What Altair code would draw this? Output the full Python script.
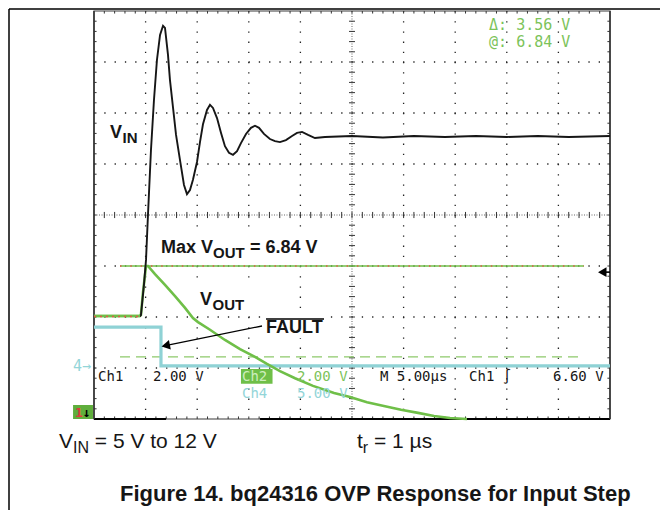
import altair as alt
import pandas as pd

# ---------------- data read from the scope screen ----------------
# time in µs (M 5.00 µs/div, 10 div), amplitude in screen divisions (8 div, 0 = centre)
vin_t = [0.00, 4.46, 4.55, 4.84, 5.04, 5.23, 5.52, 5.81, 6.10, 6.40, 6.69, 6.88, 7.17, 7.36,
         7.66, 7.95, 8.33, 8.72, 9.01, 9.30, 9.59, 9.98, 10.27, 10.56, 10.95, 11.24, 11.53,
         11.92, 12.31, 12.69, 13.08, 13.47, 13.86, 14.24, 14.73, 15.21, 15.60, 15.99, 16.47,
         17.05, 17.54, 18.02, 18.60, 19.19, 19.67, 20.16, 20.74, 21.41, 22.38, 25.0, 28.0,
         31.0, 34.0, 37.0, 40.0, 43.0, 46.0, 50.0]
vin_div = [-1.98, -1.98, -1.96, -1.37, -0.88, 0.00, 1.27, 2.25, 3.04, 3.53, 3.71, 3.67, 3.14, 2.65,
           2.10, 1.57, 1.08, 0.59, 0.41, 0.49, 0.69, 1.04, 1.43, 1.78, 2.06, 2.16, 2.10,
           1.90, 1.61, 1.35, 1.22, 1.18, 1.25, 1.41, 1.59, 1.71, 1.75, 1.71, 1.59,
           1.49, 1.45, 1.43, 1.47, 1.55, 1.61, 1.63, 1.57, 1.51, 1.53, 1.55, 1.52,
           1.55, 1.53, 1.55, 1.53, 1.55, 1.53, 1.55]

vout_t = [0.00, 4.46, 4.55, 4.75, 5.04, 5.23, 5.91, 6.88, 7.85, 8.82, 9.59, 10.08, 11.24, 12.69,
          14.15, 15.60, 16.76, 18.02, 19.48, 21.22, 23.26, 24.81, 26.45, 28.20, 29.75, 31.40,
          32.95, 34.50, 36.14]
vout_div = [-1.98, -1.98, -1.96, -1.51, -1.00, -1.00, -1.16, -1.37, -1.59, -1.82, -2.02, -2.10, -2.25,
            -2.45, -2.63, -2.78, -2.92, -3.06, -3.20, -3.35, -3.49, -3.57, -3.67, -3.75, -3.82,
            -3.88, -3.94, -3.98, -4.00]

fault_t = [0.00, 6.49, 6.49, 50.0]
fault_div = [-2.20, -2.20, -2.96, -2.96]

cursor_t = [2.52, 47.48]
cursor_max_div = -1.00      # Max VOUT = 6.84 V
cursor_min_div = -2.78      # 3.56 V below
trigger_div = -1.12         # trigger level 6.60 V
ch4_ground_div = -2.96

cursor_texts = ["Δ: 3.56 V", "@: 6.84 V"]
row1_texts = ["Ch1", "2.00 V", "Ch2", "2.00 V", "M 5.00µs", "Ch1 ∫", "6.60 V"]
row2_texts = ["Ch4", "5.00 V"]
caption = "Figure 14. bq24316 OVP Response for Input Step"

# ---------------- colours / fonts ----------------
GREEN = "#6fbf48"
GREEN_TXT = "#7cc35a"
GREEN_DASH = "#8dc96b"
CYAN = "#8fd2d5"
CYAN_TXT = "#93d5d8"
BLACK = "#161616"
SANS = "Liberation Sans"
MONO = "DejaVu Sans Mono"
SCOPE_FS = 15
ROW_FS = 14

W, H = 652, 502
X_DOM = [-8.333, 54.845]
Y_DOM = [-5.784, 4.059]

xs = alt.Scale(domain=X_DOM, nice=False, zero=False)
ys = alt.Scale(domain=Y_DOM, nice=False, zero=False)
ex = alt.X("t:Q", scale=xs, axis=None)
ey = alt.Y("d:Q", scale=ys, axis=None)
ex2 = alt.X2("t2:Q")
ey2 = alt.Y2("d2:Q")


def rules(rows, **kw):
    df = pd.DataFrame(rows, columns=["t", "t2", "d", "d2"])
    return alt.Chart(df).mark_rule(**kw).encode(x=ex, x2=ex2, y=ey, y2=ey2)


def rects(rows, **kw):
    df = pd.DataFrame(rows, columns=["t", "t2", "d", "d2"])
    return alt.Chart(df).mark_rect(**kw).encode(x=ex, x2=ex2, y=ey, y2=ey2)


def trace(t, d, **kw):
    df = pd.DataFrame({"t": t, "d": d, "o": list(range(len(t)))})
    return alt.Chart(df).mark_line(**kw).encode(x=ex, y=ey, order="o:Q")


def text(t, d, s, **kw):
    df = pd.DataFrame({"t": [t], "d": [d], "s": [s]})
    kw.setdefault("align", "left")
    kw.setdefault("baseline", "alphabetic")
    return alt.Chart(df).mark_text(**kw).encode(x=ex, y=ey, text="s:N")


layers = []

# outer figure frame (left and top)
layers.append(rules([(-8.236, -8.236, 4.039, Y_DOM[0]), (-8.236, X_DOM[1], 4.039, 4.039)],
                    color="black", strokeWidth=1.5))

# graticule: major dotted grid
vgrid = [(k * 5.0, k * 5.0, 4.0, -4.0) for k in range(1, 10) if k != 5]
hgrid = [(0.0, 50.0, k, k) for k in (3, 2, 1, -1, -2, -3)]
layers.append(rules(vgrid, color="#222", strokeWidth=1.3, strokeDash=[1.3, 8.9]))
layers.append(rules(hgrid, color="#222", strokeWidth=1.3, strokeDash=[1.3, 9.0]))
# centre cross
layers.append(rules([(25.0, 25.0, 4.0, -4.0), (0.0, 50.0, 0.0, 0.0)],
                    color="#666", strokeWidth=1, strokeDash=[1, 1.5]))
ticks = [(float(k), float(k), -0.06, 0.06) for k in range(1, 50)]
ticks += [(24.71, 25.29, k * 0.2, k * 0.2) for k in range(-19, 20) if k != 0]
# edge ticks
ticks += [(0.0, 0.25, k * 0.2, k * 0.2) for k in range(-19, 20)]
ticks += [(49.75, 50.0, k * 0.2, k * 0.2) for k in range(-19, 20)]
ticks += [(float(k), float(k), 4.0, 3.95) for k in range(1, 50)]
ticks += [(float(k), float(k), -4.0, -3.95) for k in range(1, 50)]
layers.append(rules(ticks, color="#333", strokeWidth=1))

# screen frame
layers.append(rects([(0.0, 50.0, -4.0, 4.0)], fill=None, fillOpacity=0, stroke="#3a3a3a", strokeWidth=1.2))
layers.append(rules([(0.0, 6.98, -4.0, -4.0), (16.09, 50.0, -4.0, -4.0)], color="black", strokeWidth=2))
layers.append(rules([(0.0, 0.0, -4.0, 4.0), (50.0, 50.0, -4.0, 4.0)], color="#333", strokeWidth=1.5))

# white label backgrounds (hide graticule dots)
layers.append(rects([(1.07, 4.90, 1.90, 1.31), (5.91, 22.38, -0.353, -0.922),
                     (9.79, 15.12, -1.353, -1.975), (16.28, 22.67, -1.961, -2.412)],
                    color="white"))

# cursors
layers.append(rules([(cursor_t[0], cursor_t[1], cursor_min_div, cursor_min_div)],
                    color=GREEN_DASH, strokeWidth=1.3, strokeDash=[10, 6]))
layers.append(rules([(cursor_t[0], cursor_t[1], cursor_max_div, cursor_max_div)],
                    color=GREEN, strokeWidth=1.3))
layers.append(rules([(cursor_t[0], cursor_t[1], cursor_max_div, cursor_max_div)],
                    color="#e0584a", strokeWidth=1.3, strokeDash=[1.5, 8.8]))

# traces
layers.append(trace(fault_t, fault_div, color=CYAN, strokeWidth=3.2))
layers.append(trace(vout_t, vout_div, color=GREEN, strokeWidth=2.6))
layers.append(trace(vin_t, vin_div, color=BLACK, strokeWidth=1.9))
# pre-step level: Ch2 drawn over Ch1, with cursor-red speckle
layers.append(trace(vout_t[:2], vout_div[:2], color=GREEN, strokeWidth=2.4))
layers.append(rules([(0.0, 4.46, -1.99, -1.99)], color="#e0584a", strokeWidth=1.4, strokeDash=[2, 4]))

# trigger level marker at right
layers.append(rules([(49.1, 50.0, trigger_div, trigger_div)], color="black", strokeWidth=1.6))
layers.append(alt.Chart(pd.DataFrame({"t": [49.25], "d": [trigger_div]})).mark_point(
    shape="triangle-left", filled=True, color="black", size=95, opacity=1).encode(x=ex, y=ey))

# FAULT arrow
layers.append(rules([(16.28, 6.92, -2.176, -2.561)], color="black", strokeWidth=1.3))
layers.append(alt.Chart(pd.DataFrame({"t": [6.95], "d": [-2.560]})).mark_point(
    shape="triangle-up", filled=True, color="black", size=95, angle=259, opacity=1).encode(x=ex, y=ey))

# annotations
layers.append(text(1.55, 1.51, "V", font=SANS, fontSize=18, fontWeight="bold", color=BLACK))
layers.append(text(1.55, 1.51, "IN", font=SANS, fontSize=15, fontWeight="bold", color=BLACK, dx=12.5, dy=5))

layers.append(text(6.49, -0.745, "Max V", font=SANS, fontSize=18, fontWeight="bold", color=BLACK))
layers.append(text(6.49, -0.745, "OUT", font=SANS, fontSize=15, fontWeight="bold", color=BLACK, dx=52, dy=5))
layers.append(text(6.49, -0.745, "= 6.84 V", font=SANS, fontSize=18, fontWeight="bold", color=BLACK, dx=89))

layers.append(text(10.27, -1.765, "V", font=SANS, fontSize=18, fontWeight="bold", color=BLACK))
layers.append(text(10.27, -1.765, "OUT", font=SANS, fontSize=15, fontWeight="bold", color=BLACK, dx=12.5, dy=5))

layers.append(text(16.67, -2.314, "FAULT", font=SANS, fontSize=18, fontWeight="bold", color=BLACK))
layers.append(rules([(16.67, 22.29, -2.039, -2.039)], color="black", strokeWidth=1.5))

# cursor readouts
layers.append(text(38.28, 3.627, cursor_texts[0], font=MONO, fontSize=SCOPE_FS, color=GREEN_TXT))
layers.append(text(38.28, 3.294, cursor_texts[1], font=MONO, fontSize=SCOPE_FS, color=GREEN_TXT))

# channel readouts
ROW1, ROW2 = -3.255, -3.595
layers.append(rects([(14.24, 17.30, -3.02, -3.31)], color=GREEN))
layers.append(text(0.39, ROW1, row1_texts[0], font=MONO, fontSize=ROW_FS, color=BLACK))
layers.append(text(5.72, ROW1, row1_texts[1], font=MONO, fontSize=ROW_FS, color=BLACK))
layers.append(text(14.34, ROW1, row1_texts[2], font=MONO, fontSize=ROW_FS, color="#cdeebe"))
layers.append(text(19.67, ROW1, row1_texts[3], font=MONO, fontSize=ROW_FS, color=GREEN_TXT))
layers.append(text(27.71, ROW1, row1_texts[4], font=MONO, fontSize=ROW_FS, color=BLACK))
layers.append(text(36.34, ROW1, row1_texts[5], font=MONO, fontSize=ROW_FS, color=BLACK))
layers.append(text(44.48, ROW1, row1_texts[6], font=MONO, fontSize=ROW_FS, color=BLACK))
layers.append(text(14.34, ROW2, row2_texts[0], font=MONO, fontSize=ROW_FS, color=CYAN_TXT))
layers.append(text(19.67, ROW2, row2_texts[1], font=MONO, fontSize=ROW_FS, color=CYAN_TXT))

# ground markers
layers.append(text(-2.03, ch4_ground_div, "4→", font=MONO, fontSize=15, color=CYAN_TXT, baseline="middle"))
layers.append(rects([(-2.03, -0.10, -3.725, -4.0)], color="#5fae3c"))
layers.append(text(-1.84, -3.96, "1", font=MONO, fontSize=13, fontWeight="bold", color="#e03c3c"))
layers.append(text(-1.10, -3.96, "↓", font=MONO, fontSize=13, fontWeight="bold", color="black"))

# conditions below the screen
layers.append(text(-3.39, -4.569, "V", font=SANS, fontSize=21, color=BLACK))
layers.append(text(-3.39, -4.569, "IN", font=SANS, fontSize=16, color=BLACK, dx=14, dy=5))
layers.append(text(-3.39, -4.569, "= 5 V to 12 V", font=SANS, fontSize=21, color=BLACK, dx=35.8))
layers.append(text(25.48, -4.569, "t", font=SANS, fontSize=21, color=BLACK))
layers.append(text(25.48, -4.569, "r", font=SANS, fontSize=16, color=BLACK, dx=5.8, dy=5))
layers.append(text(25.48, -4.569, "= 1 µs", font=SANS, fontSize=21, color=BLACK, dx=17))

# caption
layers.append(text(2.52, -5.608, caption, font=SANS, fontSize=22, fontWeight="bold", color=BLACK))

chart = alt.layer(*layers).properties(
    width=W, height=H, padding=0,
    autosize=alt.AutoSizeParams(type="none"),
    background="white",
).configure_view(strokeWidth=0)

chart.save("out.html", embed_options={"renderer": "svg", "actions": False})
